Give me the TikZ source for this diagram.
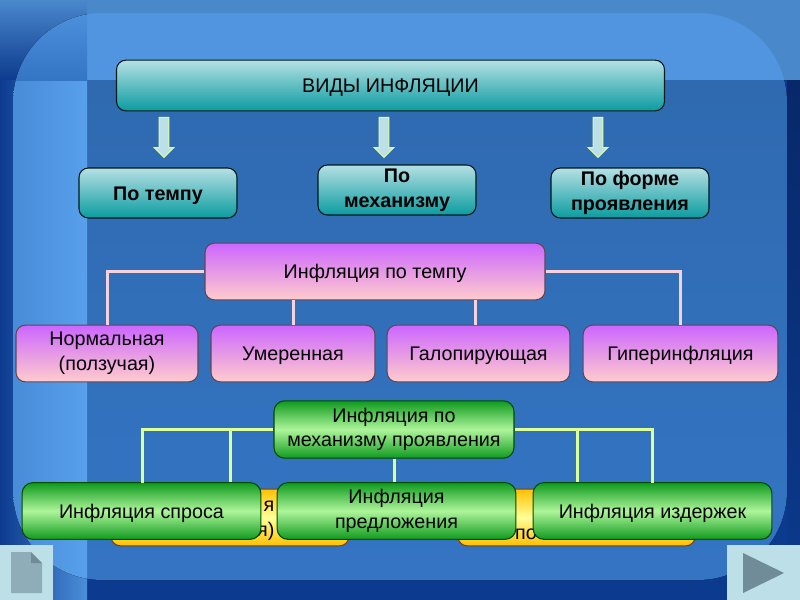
\documentclass[tikz,border=0pt]{standalone}
\usepackage{fontspec}
\setmainfont{Liberation Sans}
\usetikzlibrary{positioning}
\usetikzlibrary{shapes.arrows}
\definecolor{bgdark}{HTML}{0C3A8E}
\definecolor{bgdeep}{HTML}{08286A}
\definecolor{bgmid}{HTML}{2F6AB0}
\definecolor{bgpanel}{HTML}{3475C4}
\definecolor{bglight}{HTML}{5195E0}
\definecolor{bgcolumn}{HTML}{58A0EC}
\definecolor{bgstrip}{HTML}{4A88CC}
\definecolor{btnface}{HTML}{BCDFE8}
\definecolor{btnicon}{HTML}{6F8C98}
\definecolor{linkgreen}{HTML}{DCFF96}
\definecolor{linkpink}{HTML}{F6D2DE}
\definecolor{tealtop}{HTML}{B5E0E4}
\definecolor{tealbottom}{HTML}{0A9CA0}
\definecolor{pinktop}{HTML}{CC66FF}
\definecolor{pinkbottom}{HTML}{FFCCCC}
\definecolor{greenedge}{HTML}{0F9A1E}
\definecolor{greenmid}{HTML}{AEF59A}
\definecolor{yellowedge}{HTML}{FFC000}
\definecolor{yellowmid}{HTML}{FFFF99}
\tikzset{
  oneline/.style={
    text height=14pt
  },
  twolines/.style={
    execute at begin node=\rule{0pt}{15pt}
  },
  tealbox/.style={
    draw=black!80!teal,
    line width=.8pt,
    shape=rectangle,
    rounded corners=7pt,
    align=center,
    top color=tealtop,
    bottom color=tealbottom,
    inner sep=0pt,
    font=\fontsize{14.8}{18.5}\selectfont
  },
  teallabel/.style={
    tealbox,
    font=\fontsize{14.8}{19}\selectfont\bfseries
  },
  pinkbox/.style={
    draw=black!70!magenta,
    line width=.8pt,
    shape=rectangle,
    rounded corners=7pt,
    align=center,
    top color=pinktop,
    bottom color=pinkbottom,
    inner sep=0pt,
    font=\fontsize{14.8}{18.5}\selectfont
  },
  greenbox/.style={
    draw=black!70!green,
    line width=.8pt,
    shape=rectangle,
    rounded corners=8pt,
    align=center,
    top color=greenedge,
    bottom color=greenedge,
    middle color=greenmid,
    inner sep=0pt,
    font=\fontsize{14.8}{18.5}\selectfont
  },
  yellowbox/.style={
    draw=black!50!orange,
    line width=.8pt,
    shape=rectangle,
    rounded corners=7pt,
    top color=yellowedge,
    bottom color=yellowedge,
    middle color=yellowmid,
    inner sep=0pt,
    font=\fontsize{14.8}{18.5}\selectfont
  },
  downarrow/.style={
    draw=linkgreen,
    line width=.8pt,
    fill=btnface,
    shape=single arrow,
    shape border rotate=270,
    single arrow head extend=3.75pt,
    single arrow tip angle=90,
    inner sep=3.2pt,
    minimum height=30pt
  },
  pinklink/.style={draw=linkpink, line width=2.25pt},
  greenlink/.style={draw=linkgreen, line width=2.25pt},
}
\begin{document}
\begin{tikzpicture}[x=.75pt,y=-.75pt]
    % slide background
    \useasboundingbox (0,0) rectangle (800,600);
    \fill [bgdark] (0,0) rectangle (800,600);
    \fill [top color=bgstrip, bottom color=bgdark] (0,0) rectangle (87,80);
    \fill [bgstrip] (87,0) rectangle (800,80);
    \fill [left color=bgdark, right color=bglight!80!bgpanel] (0,80) rectangle (87,600);
    \fill [top color=bgdeep, bottom color=bgdark] (787,80) rectangle (800,600);
    \begin{scope}
      \clip [rounded corners=67pt] (13,13) rectangle (787,580);
      \fill [top color=bgmid, bottom color=bgpanel] (87,80) rectangle (800,600);
      \fill [bglight] (87,0) rectangle (800,80);
      \fill [left color=bgpanel!30!bglight, right color=bgcolumn] (13,80) rectangle (87,600);
      \fill [top color=bglight, bottom color=bgpanel] (0,0) rectangle (87,80);
    \end{scope}

    % kinds of inflation
    \node [tealbox, oneline, minimum width=411pt, minimum height=38pt] (kinds) at (390.5,85.5) {ВИДЫ ИНФЛЯЦИИ};
    \node [teallabel, oneline, minimum width=118.5pt, minimum height=37.5pt] (pace) at (158,193) {По темпу};
    \node [teallabel, twolines, minimum width=118.5pt, minimum height=37.5pt] (mech) at (397,190) {По\\механизму};
    \node [teallabel, twolines, minimum width=118.5pt, minimum height=37.5pt] (form) at (630,193) {По форме\\проявления};
    \node [downarrow] (arrowa) at (164,135) {};
    \node [downarrow] (arrowb) at (384,135) {};
    \node [downarrow] (arrowc) at (598,135) {};

    % inflation by pace
    \node [pinkbox, oneline, minimum width=255pt, minimum height=42.5pt] (bypace) at (375,271.5) {Инфляция по темпу};
    \node [pinkbox, twolines, minimum width=136.5pt, minimum height=42.5pt] (normal) at (107,353.5) {Нормальная\\(ползучая)};
    \node [pinkbox, oneline, minimum width=123pt, minimum height=42.5pt] (moderate) at (293,353.5) {Умеренная};
    \node [pinkbox, oneline, minimum width=137pt, minimum height=42.5pt] (gallop) at (478.5,353.5) {Галопирующая};
    \node [pinkbox, oneline, minimum width=146pt, minimum height=42.5pt] (hyper) at (680.5,353.5) {Гиперинфляция};
    \draw [pinklink] (bypace.west) -| (normal.north);
    \draw [pinklink] (bypace.east) -| (hyper.north);
    \draw [pinklink] (moderate.north) -- (moderate.north |- bypace.south);
    \coordinate (gallopup) at (475,325);
    \draw [pinklink] (gallopup) -- (gallopup |- bypace.south);

    % boxes behind the green row
    \node [yellowbox, twolines, minimum width=178.5pt, minimum height=42.5pt, text width=178.5pt, align=right] (hidea) at (230,517.5) {я\hspace*{56pt}\strut\\я)\hspace*{56pt}\strut};
    \node [yellowbox, twolines, minimum width=178pt, minimum height=42.5pt, text width=178pt, align=left] (hideb) at (576.5,517.5) {\strut\\\hspace*{43pt}по};

    % inflation by mechanism
    \node [greenbox, twolines, minimum width=180pt, minimum height=43pt] (bymech) at (394,429.5) {Инфляция по\\механизму проявления};
    \node [greenbox, oneline, minimum width=179pt, minimum height=42.5pt] (demand) at (141.5,511) {Инфляция спроса};
    \node [greenbox, twolines, minimum width=179pt, minimum height=42.5pt] (supply) at (396.5,511) {Инфляция\\предложения};
    \node [greenbox, oneline, minimum width=179pt, minimum height=42.5pt] (costs) at (652.5,511) {Инфляция издержек};
    \coordinate (forka) at (230,429.5);
    \coordinate (forkb) at (577,429.5);
    \coordinate (forkc) at (142,483);
    \coordinate (forkd) at (652,483);
    \draw [greenlink] (bymech.west) -| (forkc);
    \draw [greenlink] (forka) -- (forka |- demand.north);
    \draw [greenlink] (bymech.east) -| (forkd);
    \draw [greenlink] (forkb) -- (forkb |- costs.north);
    \draw [greenlink] (bymech.south) -- (bymech.south |- supply.north);

    % navigation buttons
    \fill [btnface] (0,545) rectangle (53,600);
    \fill [btnface] (727,545) rectangle (800,600);
    \fill [btnicon!60!btnface] (11,552) -- (31,552) -- (42,563) -- (42,593) -- (11,593) -- cycle;
    \fill [btnicon] (31,552) -- (42,563) -- (31,563) -- cycle;
    \fill [btnicon] (743,553) -- (743,593) -- (784,573) -- cycle;
  \end{tikzpicture}
\end{document}
